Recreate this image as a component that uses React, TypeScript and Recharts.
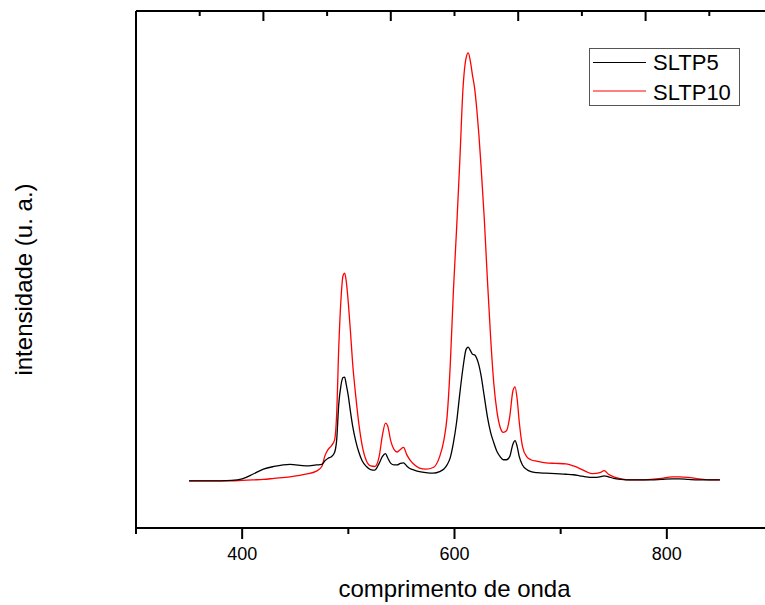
import { LineChart, Line, XAxis, YAxis, Legend } from "recharts";

const wavelength = [
  350, 370, 390, 400, 410, 420, 430, 445, 460, 470,
  475, 478, 481, 484, 487, 489, 491, 493, 495, 496.5,
  498, 500, 502, 504, 507, 510, 513, 517, 521, 525,
  529, 532, 535, 537, 540, 543, 546, 549, 552, 555,
  558, 562, 567, 573, 580, 586, 590, 593, 596, 599,
  602, 605, 608, 611, 613, 615, 617, 619, 621, 623,
  625, 628, 631, 634, 637, 640, 643, 646, 649, 652,
  655, 657, 659, 661, 664, 668, 672, 678, 686, 695,
  705, 712, 718, 724, 730, 737, 741, 745, 750, 757,
  765, 775, 785, 795, 805, 812, 820, 830, 840, 850,
];

const sltp5 = [
  9.1, 9.1, 9.2, 9.5, 10.4, 11.4, 11.9, 12.3, 12.0, 12.2,
  12.3, 13.0, 13.5, 13.8, 14.6, 17.0, 24.0, 27.5, 29.1, 29.2,
  27.8, 25.5, 22.5, 19.8, 16.8, 14.6, 13.0, 11.9, 11.3, 11.2,
  12.5, 13.8, 14.4, 13.6, 12.5, 12.2, 12.2, 12.5, 12.6, 12.0,
  11.5, 11.2, 10.9, 10.7, 10.6, 10.9, 11.4, 12.2, 13.6, 16.5,
  20.5, 26.0, 31.0, 34.6, 35.0, 34.3, 33.6, 33.5, 32.8, 31.5,
  29.5, 25.5, 21.5, 18.5, 16.5, 14.8, 13.8, 13.2, 13.2, 13.8,
  16.2, 16.9, 15.8, 13.8, 12.2, 11.3, 10.9, 10.7, 10.6, 10.5,
  10.4, 10.3, 10.1, 9.9, 9.8, 9.9, 10.1, 9.9, 9.6, 9.4,
  9.3, 9.3, 9.3, 9.4, 9.5, 9.5, 9.4, 9.3, 9.3, 9.3,
];

const sltp10 = [
  9.1, 9.1, 9.1, 9.2, 9.3, 9.4, 9.6, 9.9, 10.4, 11.0,
  11.9, 14.0, 15.2, 15.9, 17.0, 22.0, 35.0, 44.0, 48.8, 49.3,
  47.8, 43.5, 38.0, 32.0, 25.5, 20.0, 16.0, 13.0, 12.0, 11.9,
  13.8, 17.8, 20.3, 19.8, 16.8, 15.2, 14.7, 15.2, 15.6, 14.2,
  13.2, 12.3, 11.6, 11.4, 11.7, 13.8, 17.0, 21.5, 31.5, 46.0,
  58.0, 71.0, 85.0, 91.0, 91.9, 90.2, 87.5, 85.0, 81.0, 76.0,
  70.0, 60.0, 48.0, 37.0, 28.0, 22.5, 19.5, 18.5, 18.8, 21.5,
  26.5, 27.3, 25.0, 20.5, 15.8, 13.8, 13.2, 12.9, 12.6, 12.5,
  12.4, 12.0, 11.5, 10.9, 10.5, 10.7, 11.1, 10.4, 9.9, 9.5,
  9.3, 9.3, 9.4, 9.6, 9.9, 9.9, 9.8, 9.5, 9.3, 9.3,
];

const bottomTicks = [300, 400, 500, 600, 700, 800, 900];
const bottomLabels = [400, 600, 800];
const topTicks = [300, 360, 420, 480, 540, 600, 660, 720, 780, 840, 900];
const topMajor = [300, 420, 540, 660, 780, 900];

const series = [
  { key: "sltp5", name: "SLTP5", color: "#000000" },
  { key: "sltp10", name: "SLTP10", color: "#ff0000" },
];

const FONT = '"Liberation Sans", Arial, sans-serif';

const data = wavelength.map((w, i) => ({ w, sltp5: sltp5[i], sltp10: sltp10[i] }));

const BottomTick = (props: any) => {
  const { x, y, payload } = props;
  const major = bottomLabels.includes(payload.value);
  return (
    <g>
      <line x1={x} y1={y} x2={x} y2={y + (major ? 11 : 6)} stroke="#000" strokeWidth={2} />
      {major && (
        <text x={x} y={y + 31.5} textAnchor="middle" fontSize={18} fontFamily={FONT} fill="#000">
          {payload.value}
        </text>
      )}
    </g>
  );
};

const TopTick = (props: any) => {
  const { x, y, payload } = props;
  const major = topMajor.includes(payload.value);
  return <line x1={x} y1={y} x2={x} y2={y + (major ? 10 : 5)} stroke="#000" strokeWidth={2} />;
};

const XTitle = (props: any) => {
  const { viewBox } = props;
  return (
    <text x={viewBox.x + viewBox.width / 2} y={597} textAnchor="middle" fontSize={24} fontFamily={FONT} fill="#000">
      comprimento de onda
    </text>
  );
};

const YTitle = (props: any) => {
  const { viewBox } = props;
  const cy = viewBox.y + viewBox.height / 2 + 10;
  return (
    <text x={32} y={cy} transform={`rotate(-90, 32, ${cy})`} textAnchor="middle" fontSize={24} fontFamily={FONT} fill="#000">
      intensidade (u. a.)
    </text>
  );
};

const LegendBox = () => (
  <svg width={152} height={59} style={{ display: "block" }}>
    <rect x={0.5} y={0.5} width={150} height={57} fill="#fff" stroke="#555" strokeWidth={1} />
    {series.map((s, i) => (
      <g key={s.key}>
        <line x1={4} y1={14.5 + i * 28.5} x2={57} y2={14.5 + i * 28.5} stroke={s.color} strokeWidth={1} />
        <text x={64} y={22 + i * 30} fontSize={22} fontFamily={FONT} fill="#000">
          {s.name}
        </text>
      </g>
    ))}
  </svg>
);

export default function App() {
  return (
    <div style={{ position: "fixed", left: 0, top: 0, width: 765, height: 605, overflow: "hidden", background: "#fff" }}>
      <LineChart width={790} height={605} data={data} margin={{ top: 0, right: 17, bottom: 0, left: 0 }}>
        <XAxis
          dataKey="w"
          type="number"
          domain={[300, 900]}
          ticks={bottomTicks}
          interval={0}
          height={77}
          tickSize={0}
          tickMargin={0}
          tickLine={false}
          tick={<BottomTick />}
          axisLine={{ stroke: "#000", strokeWidth: 2 }}
          label={<XTitle />}
        />
        <XAxis
          xAxisId="top"
          orientation="top"
          dataKey="w"
          type="number"
          domain={[300, 900]}
          ticks={topTicks}
          interval={0}
          height={11}
          tickSize={0}
          tickMargin={0}
          tickLine={false}
          tick={<TopTick />}
          axisLine={{ stroke: "#000", strokeWidth: 2 }}
        />
        <YAxis
          type="number"
          domain={[0, 100]}
          width={136}
          tick={false}
          tickLine={false}
          axisLine={{ stroke: "#000", strokeWidth: 2 }}
          label={<YTitle />}
        />
        <Legend
          layout="vertical"
          align="center"
          verticalAlign="middle"
          content={<LegendBox />}
          wrapperStyle={{ left: 589, top: 48, width: 152, height: 59 }}
        />
        <Line
          dataKey="sltp10"
          name="SLTP10"
          type="monotone"
          stroke="#ff0000"
          strokeWidth={1.3}
          dot={false}
          isAnimationActive={false}
        />
        <Line
          dataKey="sltp5"
          name="SLTP5"
          type="monotone"
          stroke="#000000"
          strokeWidth={1.3}
          dot={false}
          isAnimationActive={false}
        />
      </LineChart>
    </div>
  );
}
